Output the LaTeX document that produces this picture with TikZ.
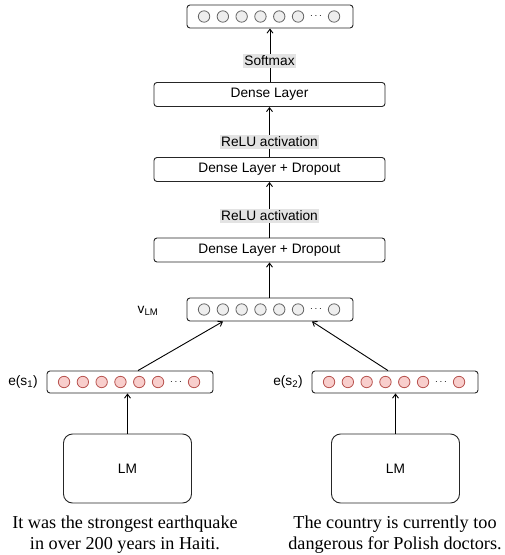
\documentclass[tikz,border=0pt]{standalone}
\usepackage{fontspec}
\setmainfont{Liberation Serif}
\setsansfont{Liberation Sans}
\usetikzlibrary{arrows.meta,calc}
\definecolor{pinkfill}{HTML}{F8CECC}
\definecolor{pinkline}{HTML}{B85450}
\definecolor{grayfill}{HTML}{EEEEEE}
\definecolor{grayline}{HTML}{666666}
\definecolor{labelbg}{HTML}{E3E3E3}
\tikzset{
  sanstext/.style={font=\sffamily\fontsize{13.7}{16}\selectfont},
  layer/.style={sanstext, draw=black!85, line width=0.9pt, rounded corners=3pt,
    minimum width=231pt, minimum height=24pt, inner sep=0pt},
  vecbox/.style={draw=black!85, line width=0.9pt, rounded corners=3pt,
    minimum width=166pt, minimum height=23pt, inner sep=0pt},
  lmbox/.style={sanstext, draw=black!85, line width=0.9pt, rounded corners=9pt,
    minimum width=128pt, minimum height=69pt, inner sep=0pt},
  actlabel/.style={sanstext, fill=labelbg, inner xsep=1pt, inner ysep=1.5pt},
  plainlabel/.style={sanstext, inner sep=0pt},
  graycirc/.style={circle, draw=grayline, fill=grayfill, line width=0.8pt,
    minimum size=11.4pt, inner sep=0pt},
  pinkcirc/.style={circle, draw=pinkline, fill=pinkfill, line width=0.8pt,
    minimum size=11.4pt, inner sep=0pt},
  sentence/.style={font=\fontsize{18.2}{21}\selectfont, align=center, inner sep=0pt},
  conn/.style={line width=0.9pt, -{Straight Barb[length=4pt,width=6pt,line width=0.9pt]}},
  connplain/.style={line width=0.9pt}
}
\newcommand{\vecdots}[2]{%
  \foreach \i in {0,...,5} \node[#2] (#1c\i) at ($(#1.west)+(17.5+18.8*\i,0)$) {};
  \node[inner sep=0pt, font=\fontsize{10}{10}\selectfont] (#1d) at ($(#1.west)+(129.5,0)$) {$\cdots$};
  \node[#2] (#1c6) at ($(#1.west)+(147.5,0)$) {};
}
\begin{document}
\begin{tikzpicture}[x=1pt,y=-1pt]
\useasboundingbox (0,0) rectangle (505,555);

% boxes
\node[vecbox] (top) at (270,16.5) {};
\vecdots{top}{graycirc}
\node[layer] (dense) at (269.5,94.5) {Dense Layer};
\node[layer] (drop1) at (269.5,169.5) {Dense Layer + Dropout};
\node[layer] (drop2) at (269.5,250) {Dense Layer + Dropout};
\node[vecbox] (vlm) at (270,309.5) {};
\vecdots{vlm}{graycirc}
\node[plainlabel] (vlmlab) at (148,311) {v\textsubscript{LM}};

\node[vecbox, minimum height=22pt] (es1) at (130,382) {};
\vecdots{es1}{pinkcirc}
\node[vecbox, minimum height=22pt] (es2) at (395,382) {};
\vecdots{es2}{pinkcirc}
\node[plainlabel] (es1lab) at (23,382) {e(s\textsubscript{1})};
\node[plainlabel] (es2lab) at (288,382) {e(s\textsubscript{2})};

\node[lmbox] (lm1) at (127.5,468.5) {LM};
\node[lmbox] (lm2) at (395.5,468.5) {LM};

\node[sentence] (sent1) at (125,535) {It was the strongest earthquake\\in over 200 years in Haiti.};
\node[sentence] (sent2) at (395,535) {The country is currently too\\dangerous for Polish doctors.};

% connectors
\draw[conn] (dense.north -| top.south) -- (top.south);
\draw[conn] (drop1.north) -- (dense.south);
\draw[conn] (drop2.north) -- (drop1.south);
\draw[conn] (vlm.north -| drop2.south) -- (drop2.south);
\draw[conn] ($(es1.north)+(8,0)$) -- ($(vlm.south)+(-47,0)$);
\draw[conn] ($(es2.north)+(-7,0)$) -- ($(vlm.south)+(42,0)$);
\draw[conn] (lm1.north) -- (lm1.north |- es1.south);
\draw[conn] (lm2.north) -- (lm2.north |- es2.south);

% activation labels
\node[actlabel] (soft) at (269.5,61) {Softmax};
\node[actlabel] (relu1) at (269.5,142) {ReLU activation};
\node[actlabel] (relu2) at (269.5,216) {ReLU activation};
\end{tikzpicture}
\end{document}
